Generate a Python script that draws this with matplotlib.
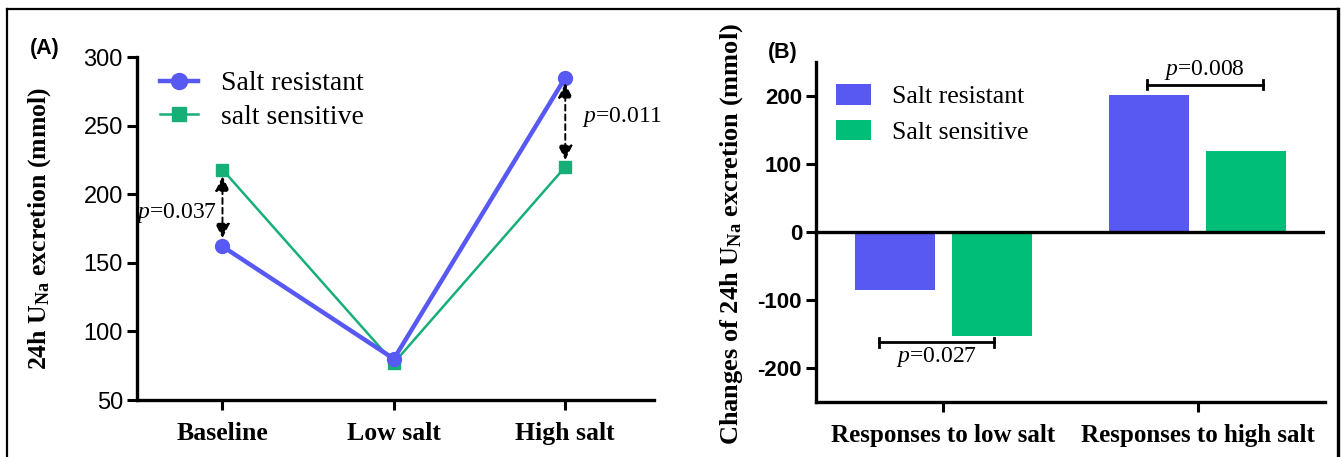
import matplotlib
matplotlib.use('Agg')
import matplotlib.pyplot as plt
import numpy as np
from matplotlib.lines import Line2D

# panel A data
conditions = ["Baseline", "Low salt", "High salt"]
resistant_una = [162, 80, 285]
sensitive_una = [218, 77, 220]

# panel B data
responses = ["Responses to low salt", "Responses to high salt"]
resistant_change = [-85, 201]
sensitive_change = [-152, 120]

BLUE = "#5858F2"
GREEN = "#00BD77"
LINE_GREEN = "#17AF78"
SERIF = "Liberation Serif"
SANS = "Liberation Sans"

plt.rcParams['mathtext.fontset'] = 'custom'
plt.rcParams['mathtext.rm'] = 'Liberation Serif:bold'
plt.rcParams['mathtext.it'] = 'Liberation Serif:italic'
plt.rcParams['axes.unicode_minus'] = False

fig = plt.figure(figsize=(13.41, 4.57), dpi=100)

# ---------------- Panel A ----------------
ax1 = fig.add_axes([0.102, 0.1247, 0.386, 0.7503])
x = np.arange(len(conditions))
ax1.plot(x, resistant_una, color=BLUE, lw=3.2, marker='o', ms=10, label="Salt resistant", zorder=3)
ax1.plot(x, sensitive_una, color=LINE_GREEN, lw=1.8, marker='s', ms=9, label="salt sensitive", zorder=2)
ax1.set_xlim(-0.5, 2.52)
ax1.set_ylim(50, 300)
ax1.set_yticks([50, 100, 150, 200, 250, 300])
ax1.set_xticks(x)
ax1.set_xticklabels(conditions, fontfamily=SERIF, fontweight='bold', fontsize=18.5)
for lab in ax1.get_yticklabels():
    lab.set_fontfamily(SANS)
    lab.set_fontsize(17)
ax1.tick_params(axis='both', length=7, width=2.2, pad=3)
ax1.tick_params(axis='x', pad=9)
for s in ['top', 'right']:
    ax1.spines[s].set_visible(False)
for s in ['left', 'bottom']:
    ax1.spines[s].set_linewidth(2.4)
ax1.set_ylabel(r"24h U$_{\mathregular{Na}}$ excretion (mmol)", fontfamily=SERIF,
               fontweight='bold', fontsize=18.5, labelpad=22)

# significance arrows
for xi, top, bot in [(0, 213, 168), (2, 281, 225)]:
    ax1.annotate("", xy=(xi, bot), xytext=(xi, top),
                 arrowprops=dict(arrowstyle='<|-|>', ls=(0, (3, 2)), lw=1.4, color='black',
                                 mutation_scale=22, shrinkA=0, shrinkB=0))
ax1.text(-0.03, 186, r"$\mathit{p}$=0.037", ha='right', va='center', fontfamily=SERIF, fontsize=17)
ax1.text(2.1, 256, r"$\mathit{p}$=0.011", ha='left', va='center', fontfamily=SERIF, fontsize=17)

ax1.legend(loc='upper left', bbox_to_anchor=(0.045, 0.96), frameon=False,
           prop={'family': SERIF, 'size': 20}, handlelength=1.35, handletextpad=0.85,
           labelspacing=0.3, borderpad=0, borderaxespad=0, markerscale=1.15)
fig.text(0.022, 0.893, "(A)", fontfamily=SANS, fontweight='bold', fontsize=15.5, va='center')

# ---------------- Panel B ----------------
ax2 = fig.add_axes([0.6085, 0.120, 0.3795, 0.744])
xb = np.arange(len(responses))
w = 0.314
off = 0.19
ax2.bar(xb - off, resistant_change, w, color=BLUE, label="Salt resistant")
ax2.bar(xb + off, sensitive_change, w, color=GREEN, label="Salt sensitive")
ax2.axhline(0, color='black', lw=2.4)
ax2.set_xlim(-0.5, 1.5)
ax2.set_ylim(-250, 250)
ax2.set_yticks([-200, -100, 0, 100, 200])
ax2.set_xticks(xb)
ax2.set_xticklabels(responses, fontfamily=SERIF, fontweight='bold', fontsize=18)
for lab in ax2.get_yticklabels():
    lab.set_fontfamily(SANS)
    lab.set_fontweight('bold')
    lab.set_fontsize(16)
ax2.tick_params(axis='both', length=7, width=2.2, pad=3)
ax2.tick_params(axis='x', pad=9)
for s in ['top', 'right']:
    ax2.spines[s].set_visible(False)
for s in ['left', 'bottom']:
    ax2.spines[s].set_linewidth(2.4)
ax2.set_ylabel(r"Changes of 24h U$_{\mathregular{Na}}$ excretion (mmol)", fontfamily=SERIF,
               fontweight='bold', fontsize=19)
ax2.yaxis.set_label_coords(-0.14, 0.495)

# significance brackets
for x0, x1, yb, yt, txt in [(-0.251, 0.2, -162, -184, "0.027"),
                            (0.8, 1.255, 217, 239, "0.008")]:
    ax2.plot([x0, x1], [yb, yb], color='black', lw=2)
    ax2.plot([x0, x0], [yb - 7, yb + 7], color='black', lw=2)
    ax2.plot([x1, x1], [yb - 7, yb + 7], color='black', lw=2)
    ax2.text((x0 + x1) / 2, yt, r"$\mathit{p}$=" + txt, ha='center', va='center',
             fontfamily=SERIF, fontsize=17)

ax2.legend(loc='upper left', bbox_to_anchor=(0.039, 0.935), frameon=False,
           prop={'family': SERIF, 'size': 18.5}, handlelength=1.35, handleheight=0.85,
           handletextpad=0.85, labelspacing=0.45, borderpad=0, borderaxespad=0)
fig.text(0.5725, 0.886, "(B)", fontfamily=SANS, fontweight='bold', fontsize=15.5, va='center')

# outer frame
fig.add_artist(Line2D([0.005, 0.998], [0.981, 0.981], transform=fig.transFigure, color='black', lw=1.6))
fig.add_artist(Line2D([0.005, 0.005], [0.981, 0.0], transform=fig.transFigure, color='black', lw=1.6))
fig.add_artist(Line2D([0.998, 0.998], [0.981, 0.0], transform=fig.transFigure, color='black', lw=2.4))

fig.savefig("out.png", dpi=100)
